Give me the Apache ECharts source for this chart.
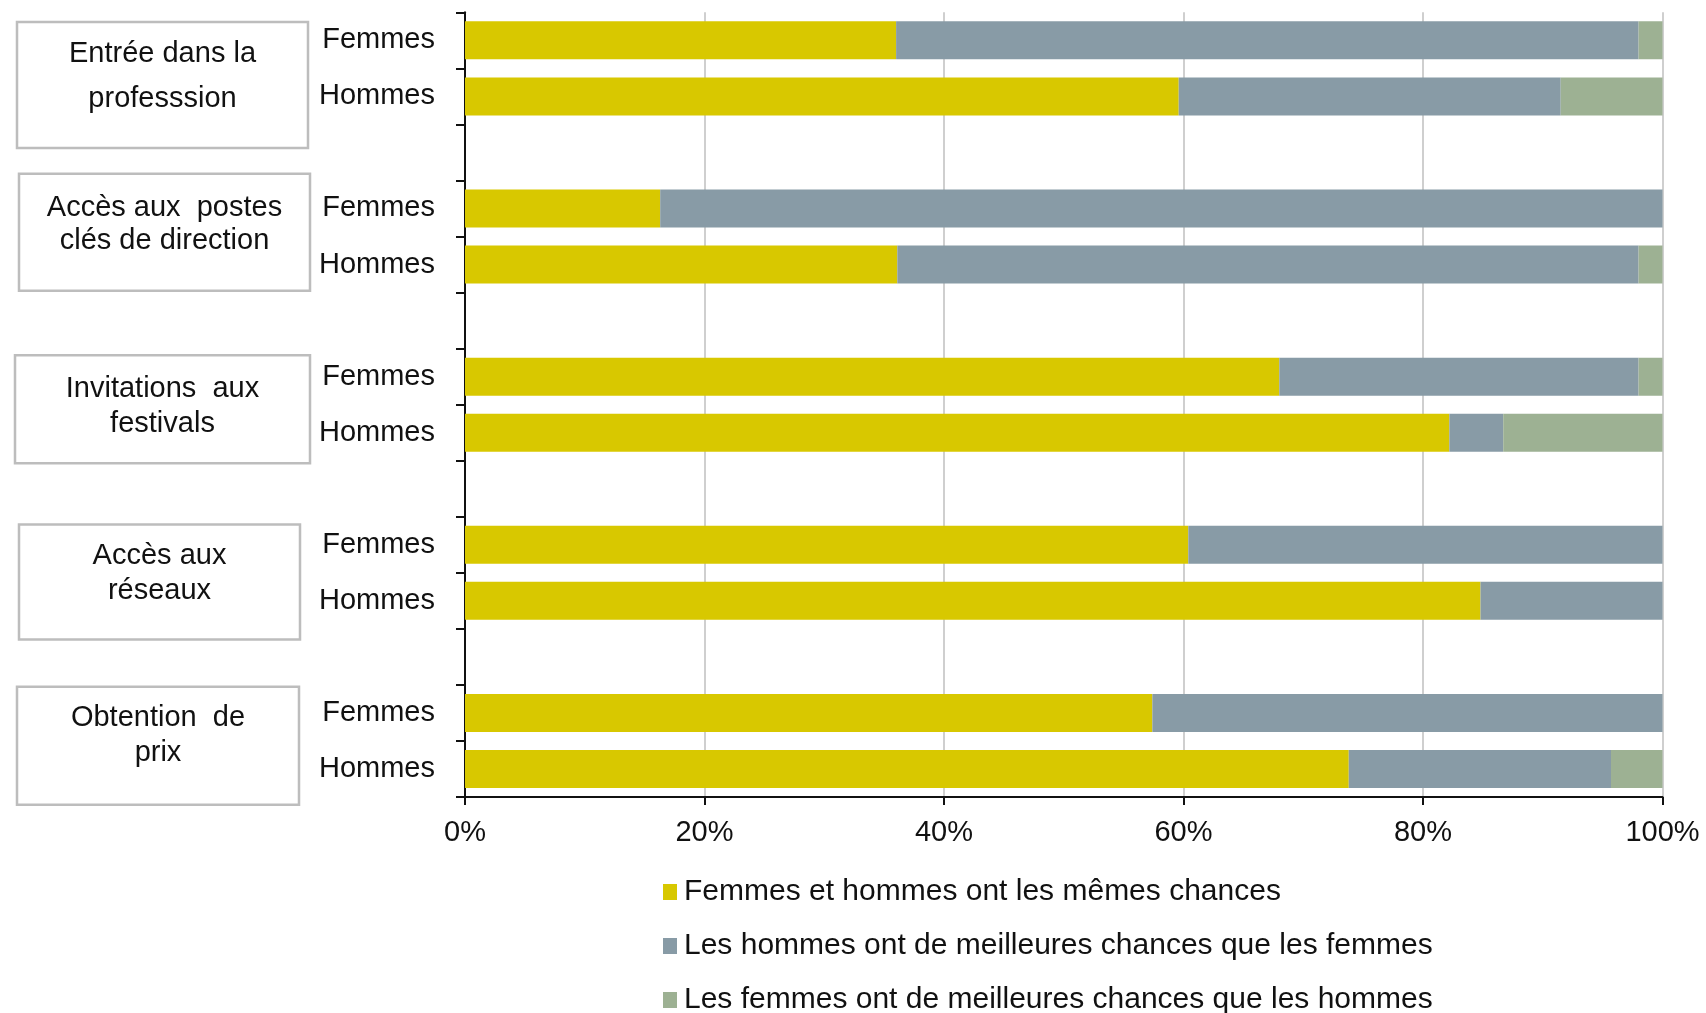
<!DOCTYPE html>
<html><head><meta charset="utf-8">
<script src="https://cdn.jsdelivr.net/npm/echarts@6/dist/echarts.min.js"></script>
<style>html,body{margin:0;padding:0;background:#fff}#c{width:1706px;height:1013px}</style>
</head><body><div id="c"></div>
<script>
// ---- data ----
const groups = ['Entrée dans la\nprofesssion', 'Accès aux  postes\nclés de direction', 'Invitations  aux\nfestivals', 'Accès aux\nréseaux', 'Obtention  de\nprix'];
const genders = ['Femmes', 'Hommes'];
const seriesNames = ['Femmes et hommes ont les mêmes chances', 'Les hommes ont de meilleures chances que les femmes', 'Les femmes ont de meilleures chances que les hommes'];
// order: group1 Femmes, group1 Hommes, group2 Femmes, ...
const sameChances = [36.0, 59.6, 16.3, 36.1, 68.0, 82.2, 60.4, 84.8, 57.4, 73.8];
const menBetter   = [62.0, 31.9, 83.7, 61.9, 30.0, 4.5, 39.6, 15.2, 42.6, 21.9];
const womenBetter = [2.0, 8.5, 0, 2.0, 2.0, 13.3, 0, 0, 0, 4.3];
const xTickValues = [0, 20, 40, 60, 80, 100];

// ---- layout / style (not data) ----
const FONT = 'Liberation Sans, Arial, sans-serif';
const colors = ['#D8C800', '#889BA6', '#9DB193'];
const boxLayout = [
  { x: 17, w: 291, h: 126, dy: 16.7, tdy: 8, lh: 45 },
  { x: 19, w: 291, h: 117, dy: -4.3, tdy: -12, lh: 33 },
  { x: 15, w: 295, h: 108, dy: 4.7, tdy: 2, lh: 35 },
  { x: 19, w: 281, h: 115, dy: 9.2, tdy: 1, lh: 35 },
  { x: 17, w: 282, h: 118, dy: 4.7, tdy: -5, lh: 35 }
];

// build rows with empty spacer rows between groups
const rows = [];
const rowOfItem = [];
const s1 = [], s2 = [], s3 = [];
groups.forEach((g, gi) => {
  genders.forEach((gd, k) => {
    const i = gi * 2 + k;
    rowOfItem.push(rows.length);
    rows.push(gd);
    s1.push(sameChances[i]); s2.push(menBetter[i]); s3.push(womenBetter[i]);
  });
  if (gi < groups.length - 1) { rows.push(''); s1.push(null); s2.push(null); s3.push(null); }
});

const chart = echarts.init(document.getElementById('c'));
const mk = (name, data, color) => ({
  name, type: 'bar', stack: 'all', data, barWidth: 38,
  itemStyle: { color }, emphasis: { disabled: true }
});
chart.setOption({
  animation: false,
  textStyle: { fontFamily: FONT },
  grid: { left: 465, right: 43.5, top: 12.3, bottom: 216, containLabel: false },
  xAxis: {
    type: 'value', min: xTickValues[0], max: xTickValues[xTickValues.length - 1],
    interval: xTickValues[1] - xTickValues[0],
    axisLine: { show: true, lineStyle: { color: '#111', width: 2 } },
    axisTick: { show: true, length: 8, lineStyle: { color: '#111', width: 2 } },
    axisLabel: { formatter: '{value}%', fontSize: 29, color: '#111', margin: 21, fontFamily: FONT },
    splitLine: { show: true, lineStyle: { color: '#cfcfcf', width: 2 } }
  },
  yAxis: {
    type: 'category', inverse: true, data: rows,
    axisLine: { show: true, lineStyle: { color: '#111', width: 2 } },
    axisTick: { show: true, length: 9, lineStyle: { color: '#111', width: 2 } },
    axisLabel: { fontSize: 29, color: '#111', margin: 30, fontFamily: FONT, interval: 0, padding: [4, 0, 0, 0] },
    splitLine: { show: false }
  },
  legend: {
    data: seriesNames, orient: 'vertical', left: 663, top: 877, height: 180, width: 900,
    itemWidth: 14, itemHeight: 16, itemGap: 24, padding: 0, icon: 'rect',
    textStyle: { fontSize: 30, color: '#111', fontFamily: FONT, padding: [0, 0, 0, 2] },
    selectedMode: false
  },
  series: [mk(seriesNames[0], s1, colors[0]), mk(seriesNames[1], s2, colors[1]), mk(seriesNames[2], s3, colors[2])]
});

// group boxes positioned from the category scale
const graphics = [];
groups.forEach((g, gi) => {
  const r0 = rowOfItem[gi * 2], r1 = rowOfItem[gi * 2 + 1];
  const y0 = chart.convertToPixel({ yAxisIndex: 0 }, r0);
  const y1 = chart.convertToPixel({ yAxisIndex: 0 }, r1);
  const mid = (y0 + y1) / 2;
  const b = boxLayout[gi];
  graphics.push({
    type: 'rect', silent: true,
    shape: { x: b.x, y: mid + b.dy - b.h / 2, width: b.w, height: b.h },
    style: { fill: '#fff', stroke: '#bdbdbd', lineWidth: 2.5 }
  });
  graphics.push({
    type: 'text', silent: true,
    style: { text: g, x: b.x + b.w / 2, y: mid + b.tdy, align: 'center', verticalAlign: 'middle',
      fontSize: 29, fontFamily: FONT, lineHeight: b.lh, fill: '#111' }
  });
});
chart.setOption({ graphic: graphics });
</script></body></html>
